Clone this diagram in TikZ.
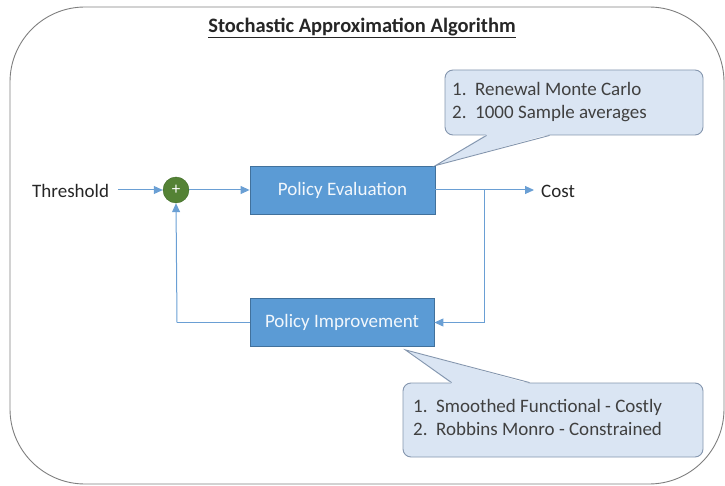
\documentclass[tikz,border=0pt]{standalone}
\usepackage{fontspec}
\setmainfont{Carlito}
\usetikzlibrary{arrows.meta,calc}

\definecolor{boxblue}{HTML}{5B9BD5}
\definecolor{boxedge}{HTML}{41719C}
\definecolor{flowline}{HTML}{6A9FD4}
\definecolor{calloutfill}{HTML}{DAE5F3}
\definecolor{calloutedge}{HTML}{8496AE}
\definecolor{sumgreen}{HTML}{548235}
\definecolor{sumedge}{HTML}{3F6A26}
\definecolor{frameedge}{HTML}{7F7F7F}
\definecolor{labeltext}{HTML}{262626}
\definecolor{notetext}{HTML}{404040}

\tikzset{
  x=1pt, y=-1pt,
  frame/.style={draw=frameedge, line width=0.9pt, rounded corners=75pt},
  stagebox/.style={draw=boxedge, fill=boxblue, line width=0.8pt,
    minimum height=48pt, inner sep=0pt, text=white!92!boxblue,
    font=\fontsize{19}{22}\selectfont},
  label/.style={text=labeltext, font=\fontsize{19}{22}\selectfont, inner sep=0pt},
  sumnode/.style={circle, draw=sumedge, fill=sumgreen, minimum size=26pt,
    inner sep=0pt, text=white, font=\fontsize{17}{17}\selectfont},
  flow/.style={draw=flowline, line width=1pt,
    -{Triangle[length=9pt,width=8pt]}},
  flowplain/.style={draw=flowline, line width=1pt},
  notebox/.style={draw=calloutedge, fill=calloutfill, line width=0.9pt,
    rounded corners=8pt, inner sep=0pt},
  notetxt/.style={align=left, text=notetext, inner sep=0pt,
    font=\fontsize{19}{23}\selectfont},
  pointerfill/.style={fill=calloutfill},
  pointeredge/.style={draw=calloutedge, line width=0.9pt, line join=miter},
}

\begin{document}
\begin{tikzpicture}
\useasboundingbox (0,0) rectangle (725,486);

% outer frame
\draw[frame] (10,7) rectangle (724,484);

% title
\node[font=\fontsize{20.5}{24}\selectfont\bfseries, text=labeltext] (title) at (362,28)
  {\underline{Stochastic Approximation Algorithm}};

% main blocks
\node[label, anchor=west] (thr) at (32,191) {Threshold};
\node[sumnode] (sum) at (176,190) {+};
\node[stagebox, minimum width=185pt] (pe) at (342.5,190) {Policy Evaluation};
\node[stagebox, minimum width=184pt] (pi) at (342,322.5) {Policy Improvement};
\node[label, anchor=west] (cost) at (541,191) {Cost};

\coordinate (throut) at (118,190);
\coordinate (costin) at (534,190);
\coordinate (split) at (484,190);
\coordinate (loopleft) at (177,322.5);

% connectors
\draw[flow] (throut) -- (sum.west);
\draw[flow] (sum.east) -- (pe.west);
\draw[flow] (pe.east) -- (costin);
\draw[flow] (split) |- (pi.east);
\draw[flowplain] (pi.west) -- (loopleft);
\draw[flow] (loopleft) -- (sum.south);

% callout: evaluation notes
\node[notebox, minimum width=258pt, minimum height=65pt] (c1) at (574,102.5) {};
\node[notetxt, anchor=west] (c1t) at (452,102)
  {1.\ \ Renewal Monte Carlo\\2.\ \ 1000 Sample averages};
\coordinate (c1a) at ($(c1.south west)+(42,0)$);
\coordinate (c1b) at ($(c1.south west)+(105,0)$);
\fill[pointerfill] ($(c1a)+(0,-1.2)$) -- (pe.north east) -- ($(c1b)+(0,-1.2)$) -- cycle;
\draw[pointeredge] (c1a) -- (pe.north east) -- (c1b);

% callout: improvement notes
\node[notebox, minimum width=300pt, minimum height=74pt] (c2) at (553,420) {};
\node[notetxt, anchor=west] (c2t) at (413,417)
  {1.\ \ Smoothed Functional - Costly\\2.\ \ Robbins Monro - Constrained};
\coordinate (c2a) at ($(c2.north west)+(49,0)$);
\coordinate (c2b) at ($(c2.north west)+(127,0)$);
\coordinate (c2tip) at ($(pi.south east)+(-29,3)$);
\fill[pointerfill] ($(c2a)+(0,1.2)$) -- (c2tip) -- ($(c2b)+(0,1.2)$) -- cycle;
\draw[pointeredge] (c2a) -- (c2tip) -- (c2b);
\end{tikzpicture}
\end{document}
